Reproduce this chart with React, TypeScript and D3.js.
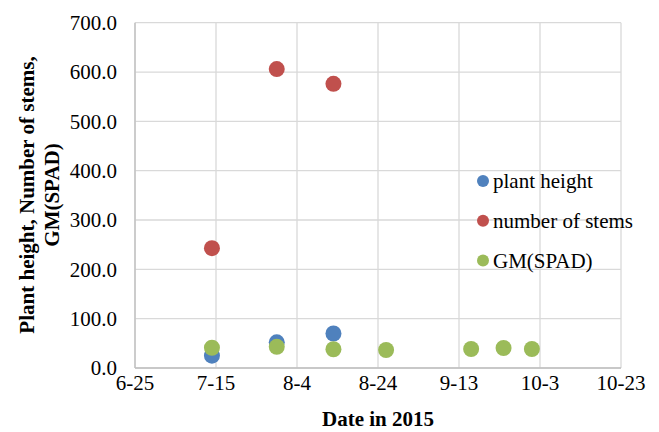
import React from "react";
import * as d3 from "d3";

const xTickLabels = ["6-25", "7-15", "8-4", "8-24", "9-13", "10-3", "10-23"];
const yTicks = [0, 100, 200, 300, 400, 500, 600, 700];

const plantHeightDates = ["2015-07-14", "2015-07-30", "2015-08-13"];
const plantHeightValues = [25, 52, 70];

const stemsDates = ["2015-07-14", "2015-07-30", "2015-08-13"];
const stemsValues = [243, 606, 576];

const spadDates = ["2015-07-14", "2015-07-30", "2015-08-13", "2015-08-26", "2015-09-16", "2015-09-24", "2015-10-01"];
const spadValues = [41, 43, 38, 36.5, 38.5, 40.5, 38.5];

const seriesNames = ["plant height", "number of stems", "GM(SPAD)"];
const colors = ["#4F81BD", "#C0504D", "#9BBB59"];

const parse = d3.timeParse("%Y-%m-%d");

export default function App() {
  const W = 659, H = 432;
  const left = 135, right = 621, top = 22.7, bottom = 368;
  const x = d3.scaleTime().domain([parse("2015-06-25")!, parse("2015-10-23")!]).range([left, right]);
  const y = d3.scaleLinear().domain([0, 700]).range([bottom, top]);
  const xTicks = xTickLabels.map((_, i) => d3.timeDay.offset(parse("2015-06-25")!, i * 20));
  const font = '"Liberation Serif", "Times New Roman", Times, serif';
  const fs = 21;

  const series = [
    { dates: plantHeightDates, values: plantHeightValues },
    { dates: stemsDates, values: stemsValues },
    { dates: spadDates, values: spadValues },
  ];

  return (
    <svg width={W} height={H} style={{ position: "absolute", left: 0, top: 0, background: "#fff", fontFamily: font }}>
      <rect width={W} height={H} fill="#fff" />
      {yTicks.map((t) => (
        <line key={"gy" + t} x1={left} x2={right} y1={y(t)} y2={y(t)} stroke="#d9d9d9" strokeWidth={1.3} />
      ))}
      {xTicks.map((t, i) => (
        <line key={"gx" + i} x1={x(t)} x2={x(t)} y1={top} y2={bottom} stroke="#d9d9d9" strokeWidth={1.3} />
      ))}
      <line x1={left} x2={left} y1={top} y2={bottom} stroke="#bfbfbf" strokeWidth={1.3} />
      <line x1={left} x2={right} y1={bottom} y2={bottom} stroke="#bfbfbf" strokeWidth={1.3} />
      {yTicks.map((t) => (
        <text key={"ty" + t} x={117} y={y(t)} dy="0.35em" textAnchor="end" fontSize={fs} fill="#000">
          {t.toFixed(1)}
        </text>
      ))}
      {xTicks.map((t, i) => (
        <text key={"tx" + i} x={x(t)} y={383} dy="0.35em" textAnchor="middle" fontSize={fs} fill="#000">
          {xTickLabels[i]}
        </text>
      ))}
      {series.map((s, si) =>
        s.dates.map((d, i) => (
          <circle key={si + "-" + i} cx={x(parse(d)!)} cy={y(s.values[i])} r={8} fill={colors[si]} />
        ))
      )}
      {seriesNames.map((n, i) => (
        <g key={"lg" + i}>
          <circle cx={483} cy={181 + i * 39.7} r={6} fill={colors[i]} />
          <text x={493} y={181 + i * 39.7} dy="0.35em" fontSize={fs} fill="#000">{n}</text>
        </g>
      ))}
      <text x={378} y={419} dy="0.35em" textAnchor="middle" fontSize={fs} fontWeight="bold" fill="#000">Date in 2015</text>
      <text transform="translate(27,195) rotate(-90)" textAnchor="middle" dy="0.35em" fontSize={fs} fontWeight="bold" fill="#000">
        Plant height, Number of stems,
      </text>
      <text transform="translate(52,195) rotate(-90)" textAnchor="middle" dy="0.35em" fontSize={fs} fontWeight="bold" fill="#000">
        GM(SPAD)
      </text>
    </svg>
  );
}
